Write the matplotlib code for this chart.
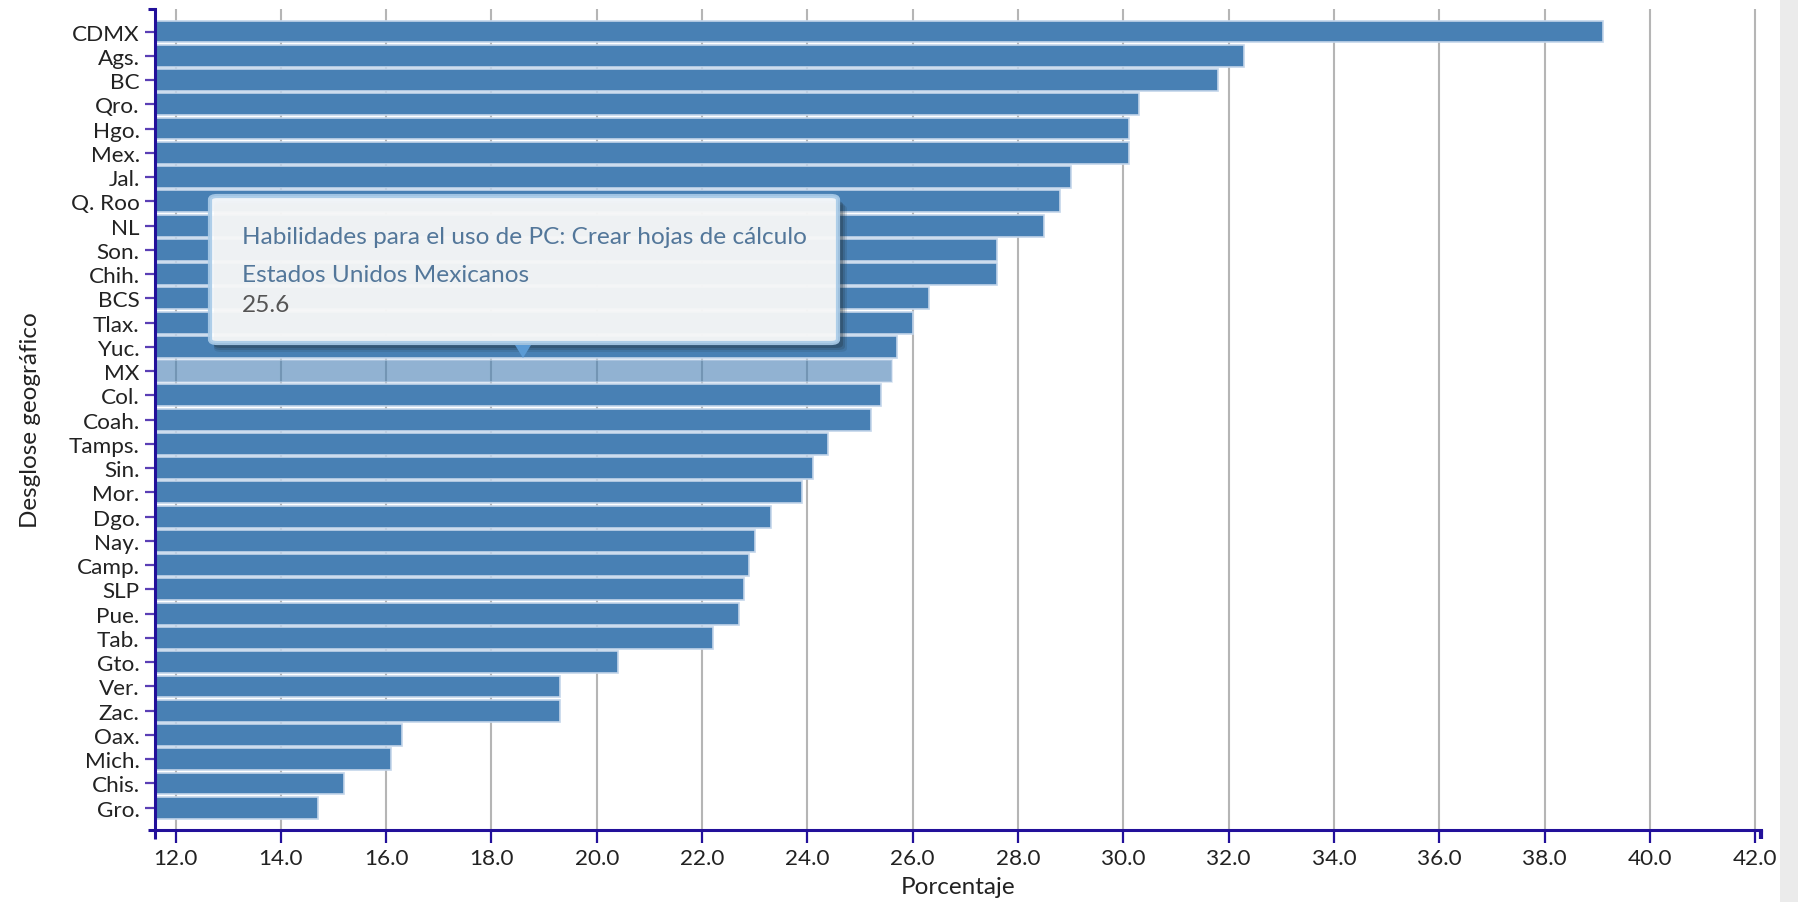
import matplotlib
matplotlib.use("Agg")
import matplotlib.pyplot as plt
from matplotlib.patches import FancyBboxPatch, Rectangle, Polygon

# -------------------------------
# Data
# -------------------------------
estados = ["CDMX", "Ags.", "BC", "Qro.", "Hgo.", "Mex.", "Jal.", "Q. Roo", "NL",
           "Son.", "Chih.", "BCS", "Tlax.", "Yuc.", "MX", "Col.", "Coah.",
           "Tamps.", "Sin.", "Mor.", "Dgo.", "Nay.", "Camp.", "SLP", "Pue.",
           "Tab.", "Gto.", "Ver.", "Zac.", "Oax.", "Mich.", "Chis.", "Gro."]
porcentaje = [39.1, 32.3, 31.8, 30.3, 30.1, 30.1, 29.0, 28.8, 28.5,
              27.6, 27.6, 26.3, 26.0, 25.7, 25.6, 25.4, 25.2,
              24.4, 24.1, 23.9, 23.3, 23.0, 22.9, 22.8, 22.7,
              22.2, 20.4, 19.3, 19.3, 16.3, 16.1, 15.2, 14.7]
xticks = [12.0, 14.0, 16.0, 18.0, 20.0, 22.0, 24.0, 26.0, 28.0, 30.0,
          32.0, 34.0, 36.0, 38.0, 40.0, 42.0]
destacado = "MX"
tooltip_lines = ["Habilidades para el uso de PC: Crear hojas de cálculo",
                 "Estados Unidos Mexicanos",
                 "25.6"]

plt.rcParams["font.family"] = ["Lato", "DejaVu Sans"]

W, H = 1799, 903
fig = plt.figure(figsize=(W / 100, H / 100), dpi=100)


def fx(px):
    return px / W


def fy(py):
    return 1 - py / H


# axes box in pixels: left 155, right 1761, top 10, bottom 831
ax = fig.add_axes([fx(155), fy(831), fx(1761) - fx(155), fy(10) - fy(831)])

xmin, xmax = 11.61, 42.11
pos = list(range(len(estados)))
alphas = [0.6 if e == destacado else 1.0 for e in estados]

for i, v in enumerate(porcentaje):
    ax.barh(pos[i], v - xmin, left=xmin, height=0.9, color="#4880b4",
            alpha=alphas[i], edgecolor="#c3d5ea", linewidth=1.2, zorder=2)

ax.set_xlim(xmin, xmax)
ax.set_ylim(len(estados) - 1 + 0.92, -0.93)
ax.set_yticks(pos)
ax.set_yticklabels(estados)
ax.set_xticks(xticks)
ax.set_xticklabels([f"{t:.1f}" for t in xticks])

ax.grid(axis="x", color="#b5b5b5", linewidth=1.5, zorder=0)
ax.set_axisbelow(True)

axis_col = "#22109a"
for s in ["top", "right"]:
    ax.spines[s].set_visible(False)
for s in ["left", "bottom"]:
    ax.spines[s].set_color(axis_col)
    ax.spines[s].set_linewidth(2.2)

ax.tick_params(axis="y", length=7, width=1.6, color="#5a3fb5", pad=4,
               labelsize=16.2, labelcolor="#222222")
ax.tick_params(axis="x", length=9, width=1.6, color=axis_col, pad=4,
               labelsize=16.2, labelcolor="#222222")

# outer ticks at the ends of the axes (d3 style)
ax.plot([-7 / 1606, 0], [1, 1], transform=ax.transAxes, color=axis_col,
        lw=2.2, clip_on=False, solid_capstyle="butt")
ax.plot([-7 / 1606, 0], [0, 0], transform=ax.transAxes, color=axis_col,
        lw=2.2, clip_on=False, solid_capstyle="butt")
ax.plot([0, 0], [0, -9 / 821], transform=ax.transAxes, color=axis_col,
        lw=2.2, clip_on=False, solid_capstyle="butt")
ax.plot([1, 1], [0, -9 / 821], transform=ax.transAxes, color=axis_col,
        lw=3, clip_on=False, solid_capstyle="butt")

ax.set_xlabel("Porcentaje", fontsize=17.5, color="#222222", labelpad=6)
ax.set_ylabel("Desglose geográfico", fontsize=17.5, color="#222222",
              labelpad=20)

# -------------------------------
# Tooltip
# -------------------------------
bx0, by0, bx1, by1 = 210, 197, 838, 344
for k, a in [(9, 0.12), (7, 0.18), (5, 0.25)]:
    sh = FancyBboxPatch((fx(bx0 + 4), fy(by1 + k)), fx(bx1 - bx0 + k - 4), fy(by0) - fy(by1),
                        boxstyle="round,pad=0,rounding_size=0.004",
                        transform=fig.transFigure, facecolor="#1e2a30",
                        edgecolor="none", alpha=a, zorder=5)
    fig.add_artist(sh)

box = FancyBboxPatch((fx(bx0), fy(by1)), fx(bx1 - bx0), fy(by0) - fy(by1),
                     boxstyle="round,pad=0,rounding_size=0.004",
                     transform=fig.transFigure, facecolor="#ffffff",
                     edgecolor="#a9cbe8", linewidth=3, alpha=0.92, zorder=6)
fig.add_artist(box)

arrow = Polygon([(fx(515), fy(346)), (fx(531), fy(346)), (fx(523), fy(359))],
                closed=True, transform=fig.transFigure, facecolor="#5b9bd5",
                edgecolor="none", zorder=7)
fig.add_artist(arrow)

fig.text(fx(242), fy(237), tooltip_lines[0], fontsize=17.6, color="#53779a",
         va="center", ha="left", zorder=8)
fig.text(fx(242), fy(275), tooltip_lines[1], fontsize=17.6, color="#53779a",
         va="center", ha="left", zorder=8)
fig.text(fx(242), fy(306), tooltip_lines[2], fontsize=17.6, color="#555555",
         va="center", ha="left", zorder=8)

# gray strip on the right edge
fig.add_artist(Rectangle((fx(1780), 0), fx(W - 1780), 1, transform=fig.transFigure,
                         facecolor="#ebebeb", edgecolor="none", zorder=1))

plt.savefig("out.png", dpi=100)
plt.close()
